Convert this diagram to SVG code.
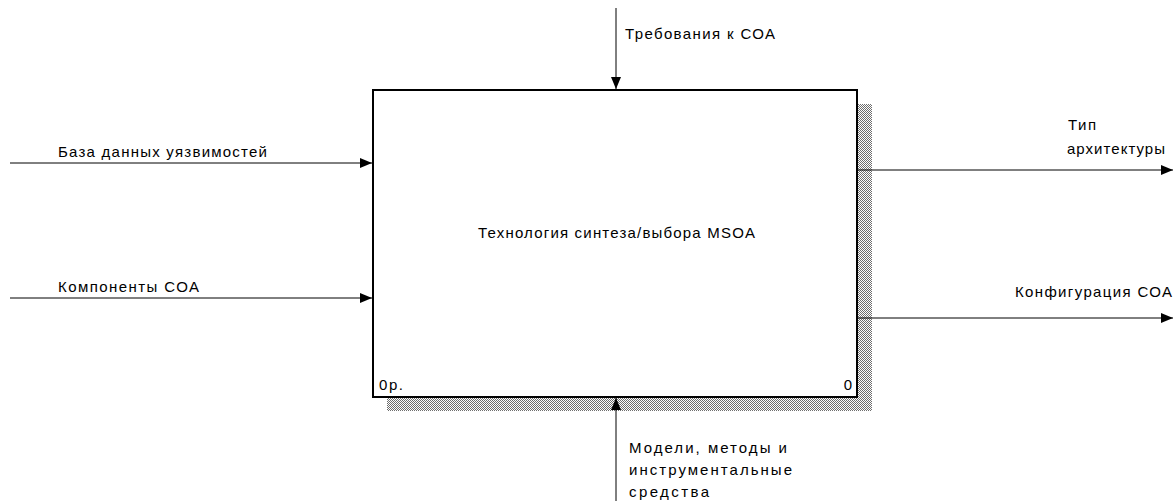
<svg xmlns="http://www.w3.org/2000/svg" width="1173" height="501" viewBox="0 0 1173 501">
<style>
text{font-family:"Liberation Sans",Arial,sans-serif;font-size:15px;fill:#000}
.ln{stroke:#000;stroke-width:1;fill:none}
</style>
<defs>
<pattern id="hatch" width="2" height="2" patternUnits="userSpaceOnUse">
<rect width="2" height="2" fill="#fff"/>
<rect x="0" y="0" width="1" height="1" fill="#6e6e6e"/>
<rect x="1" y="1" width="1" height="1" fill="#6e6e6e"/>
</pattern>
<marker id="ah" viewBox="0 0 12 10" refX="12" refY="5" markerWidth="12" markerHeight="10" markerUnits="userSpaceOnUse" orient="auto">
<path d="M0,0 L12,5 L0,10 Z" fill="#000"/>
</marker>
</defs>
<rect width="1173" height="501" fill="#fff"/>
<g id="node-0">
<rect x="387" y="104" width="485" height="307" fill="url(#hatch)"/>
<rect x="373" y="90" width="484" height="307" fill="#fff" stroke="#000" stroke-width="2"/>
<text x="478" y="238" textLength="277" lengthAdjust="spacing">Технология синтеза/выбора MSOA</text>
<text x="379" y="390" textLength="24" lengthAdjust="spacing">0р.</text>
<text x="852" y="390" text-anchor="end">0</text>
</g>
<g id="connectors">
<line class="ln" x1="616" y1="8" x2="616" y2="89" marker-end="url(#ah)"/>
<line class="ln" x1="10" y1="163" x2="372" y2="163" marker-end="url(#ah)"/>
<line class="ln" x1="10" y1="298" x2="372" y2="298" marker-end="url(#ah)"/>
<line class="ln" x1="858" y1="170" x2="1173" y2="170" marker-end="url(#ah)"/>
<line class="ln" x1="858" y1="318" x2="1173" y2="318" marker-end="url(#ah)"/>
<line class="ln" x1="616" y1="501" x2="616" y2="398" marker-end="url(#ah)"/>
<text x="625" y="39" textLength="150" lengthAdjust="spacing">Требования к СОА</text>
<text x="58" y="157" textLength="209" lengthAdjust="spacing">База данных уязвимостей</text>
<text x="58" y="292" textLength="141" lengthAdjust="spacing">Компоненты СОА</text>
<text x="1068" y="130" textLength="28" lengthAdjust="spacing">Тип</text>
<text x="1067" y="154" textLength="98" lengthAdjust="spacing">архитектуры</text>
<text x="1015" y="297" textLength="157" lengthAdjust="spacing">Конфигурация СОА</text>
<text x="629" y="453" textLength="158" lengthAdjust="spacing">Модели, методы и</text>
<text x="629" y="475" textLength="163" lengthAdjust="spacing">инструментальные</text>
<text x="629" y="497" textLength="80" lengthAdjust="spacing">средства</text>
</g>
</svg>
